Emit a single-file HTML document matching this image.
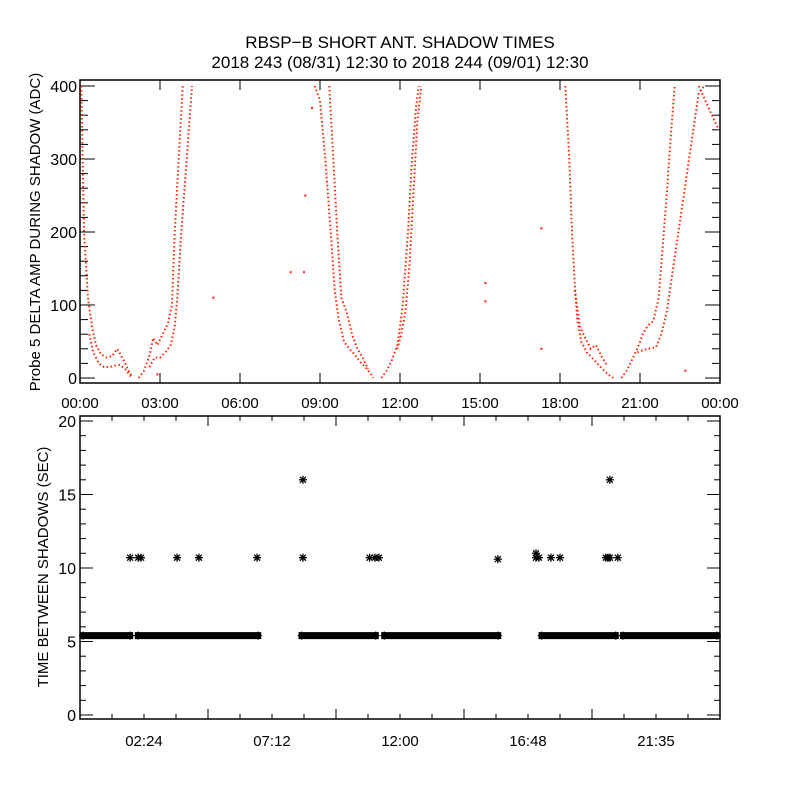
<!DOCTYPE html>
<html><head><meta charset="utf-8"><style>
html,body{margin:0;padding:0;background:#fff;}
svg{display:block;font-family:"Liberation Sans",sans-serif;}
</style></head><body>
<svg id="chart" width="800" height="800" viewBox="0 0 800 800">
<rect width="800" height="800" fill="#fff"/>
<text x="400" y="48" font-size="17" text-anchor="middle">RBSP−B SHORT ANT. SHADOW TIMES</text>
<text x="400" y="68" font-size="17" text-anchor="middle">2018 243 (08/31) 12:30 to 2018 244 (09/01) 12:30</text>
<g id="topPanel"></g>
<g id="botPanel"></g>
</svg>
<script>
// ---- top panel data (hours, ADC) ----
const b1aH=[0.05,0.15,0.3,0.45,0.6,0.8,1.0,1.2,1.4,1.55,1.7,1.85,1.95];
const b1aV=[400,200,110,70,45,32,28,30,40,30,20,8,2];
const b1bH=[0.35,0.5,0.7,0.9,1.1,1.3,1.5,1.7,1.9];
const b1bV=[60,35,20,15,15,17,18,12,2];
const b2aH=[2.2,2.4,2.6,2.75,2.9,3.1,3.3,3.45,3.55,3.7,3.85];
const b2aV=[0,10,30,55,45,60,75,100,200,300,400];
const b2bH=[2.6,2.8,3.0,3.2,3.4,3.55,3.65,3.8,4.0,4.2];
const b2bV=[15,28,28,35,45,70,110,200,300,400];
const b3aH=[8.8,9.0,9.2,9.4,9.55,9.7,9.9,10.1,10.3,10.5,10.7,10.9,11.0];
const b3aV=[400,380,300,200,120,80,50,40,32,22,15,6,0];
const b3bH=[9.35,9.5,9.65,9.8,10.0,10.2,10.4,10.6,10.8];
const b3bV=[400,300,200,110,90,60,40,28,12];
const b4aH=[11.3,11.5,11.7,11.9,12.0,12.1,12.2,12.3,12.45,12.6,12.7];
const b4aV=[0,10,25,45,70,100,150,200,300,370,400];
const b4bH=[11.9,12.05,12.2,12.35,12.5,12.65,12.8];
const b4bV=[40,60,90,150,250,350,400];
const b5aH=[18.2,18.35,18.45,18.55,18.65,18.8,19.0,19.2,19.4,19.6,19.8,20.0];
const b5aV=[400,300,200,130,80,50,35,28,20,12,5,0];
const b5bH=[18.55,18.75,18.95,19.15,19.35,19.55,19.75];
const b5bV=[120,70,55,40,45,30,18];
const b6aH=[20.3,20.5,20.7,20.9,21.1,21.3,21.5,21.7,21.85,22.0,22.15,22.3];
const b6aV=[0,10,25,40,60,72,78,110,180,250,330,400];
const b6bH=[20.9,21.1,21.3,21.6,21.8,22.0,22.2,22.4,22.6,22.8,23.0,23.2,23.4];
const b6bV=[35,38,40,42,60,90,140,190,240,290,340,390,400];
const b7H=[23.2,23.45,23.7,23.95];
const b7V=[400,380,360,340];
const isoH=[5.0,7.9,8.4,8.45,8.7,15.2,15.2,17.3,17.3,22.7,2.9];
const isoV=[110,145,145,250,370,105,130,205,40,10,5];
const topXTicks=["00:00","03:00","06:00","09:00","12:00","15:00","18:00","21:00","00:00"];
const topYTicks=[0,100,200,300,400];
// ---- bottom panel data ----
const segStart=[0,2.06,8.2,11.3,17.2,20.25];
const segEnd=[1.99,6.79,11.2,15.79,20.2,24];
const segVal=[5.4,5.4,5.4,5.4,5.4,5.4];
const outH=[1.88,2.18,2.29,3.64,4.46,6.64,8.36,10.86,11.06,11.21,15.67,17.1,17.21,17.66,18.0,19.72,19.8,19.87,20.17,8.36,19.87,17.1];
const outV=[10.7,10.7,10.7,10.7,10.7,10.7,10.7,10.7,10.7,10.7,10.6,10.7,10.7,10.7,10.7,10.7,10.7,10.7,10.7,16,16,11];
const botXTicks=["02:24","07:12","12:00","16:48","21:35"];
const botYTicks=[0,5,10,15,20];

const NS="http://www.w3.org/2000/svg";
function mk(tag,attrs,parent){const e=document.createElementNS(NS,tag);for(const k in attrs)e.setAttribute(k,attrs[k]);parent.appendChild(e);return e;}
const X0=80,X1=720;
function xs(h){return X0+h*(X1-X0)/24;}
const T0=80,T1=383;
function ty(v){return 378-v*0.73;}
const B0=416,B1=719;
function by(v){return 715-v*14.7;}

const topG=document.getElementById('topPanel');
const botG=document.getElementById('botPanel');

let r=mk('rect',{x:X0,y:T0,width:X1-X0,height:T1-T0,fill:'none',stroke:'#000','stroke-width':1.5},topG);


for(let v=0;v<=400;v+=20){
  const L=(v%100===0)?15:8;
  mk('line',{x1:X0,x2:X0+L,y1:ty(v),y2:ty(v),stroke:'#000'},topG);
  mk('line',{x1:X1,x2:X1-L,y1:ty(v),y2:ty(v),stroke:'#000'},topG);
}
topYTicks.forEach(v=>{
  const t=mk('text',{x:X0-3,y:ty(v)+6,'font-size':16,'text-anchor':'end'},topG);
  t.textContent=v;
  
  
});
topXTicks.forEach((s,i)=>{
  const x=xs(i*3);
  mk('line',{x1:x,x2:x,y1:T1,y2:T1-10,stroke:'#000'},topG);
  mk('line',{x1:x,x2:x,y1:T0,y2:T0+10,stroke:'#000'},topG);
  const t=mk('text',{x:x,y:408,'font-size':15,'text-anchor':'middle'},topG);
  t.textContent=s;
  
  
});
let yt=mk('text',{x:0,y:0,'font-size':15,'text-anchor':'middle',transform:'translate(40,232) rotate(-90)'},topG);
yt.textContent='Probe 5 DELTA AMP DURING SHADOW (ADC)';



const branches=[[b1aH,b1aV],[b1bH,b1bV],[b2aH,b2aV],[b2bH,b2bV],[b3aH,b3aV],[b3bH,b3bV],[b4aH,b4aV],[b4bH,b4bV],[b5aH,b5aV],[b5bH,b5bV],[b6aH,b6aV],[b6bH,b6bV],[b7H,b7V]];
branches.forEach(([H,V],i)=>{
  const pts=H.map((h,j)=>xs(h).toFixed(1)+','+ty(V[j]).toFixed(1)).join(' ');
  const p=mk('polyline',{points:pts,fill:'none',stroke:'#ff2200','stroke-width':2,'stroke-dasharray':'1.5 2.5'},topG);
  
  
});
isoH.forEach((h,j)=>{
  const c=mk('rect',{x:xs(h)-1,y:ty(isoV[j])-1,width:2,height:2,fill:'#ff2200'},topG);
  
  
});

r=mk('rect',{x:X0,y:B0,width:X1-X0,height:B1-B0,fill:'none',stroke:'#000','stroke-width':1.5},botG);


for(let v=0;v<=20;v+=1){
  const L=(v%5===0)?13:6;
  mk('line',{x1:X0,x2:X0+L,y1:by(v),y2:by(v),stroke:'#000'},botG);
  mk('line',{x1:X1,x2:X1-L,y1:by(v),y2:by(v),stroke:'#000'},botG);
}
botYTicks.forEach(v=>{
  const t=mk('text',{x:X0-4,y:by(v)+6,'font-size':16,'text-anchor':'end'},botG);
  t.textContent=v;
  
  
});
for(let k=1;k<20;k++){
  const x=xs(k*1.2),L=(k%4===0)?10:5;
  mk('line',{x1:x,x2:x,y1:B1,y2:B1-L,stroke:'#000'},botG);
  mk('line',{x1:x,x2:x,y1:B0,y2:B0+L,stroke:'#000'},botG);
}
botXTicks.forEach((s,i)=>{
  const t=mk('text',{x:xs((i+0.5)*4.8),y:746,'font-size':15,'text-anchor':'middle'},botG);
  t.textContent=s;
  
  
});
yt=mk('text',{x:0,y:0,'font-size':15,'text-anchor':'middle',transform:'translate(48,567) rotate(-90)'},botG);
yt.textContent='TIME BETWEEN SHADOWS (SEC)';



function star(x,y,name){
  const g=mk('g',{stroke:'#000','stroke-width':1.3},botG);
  
  
  mk('line',{x1:x-4,x2:x+4,y1:y,y2:y},g);
  mk('line',{x1:x,x2:x,y1:y-4,y2:y+4},g);
  mk('line',{x1:x-3,x2:x+3,y1:y-3,y2:y+3},g);
  mk('line',{x1:x-3,x2:x+3,y1:y+3,y2:y-3},g);
}
segStart.forEach((s,i)=>{
  const x0=xs(s),x1=xs(segEnd[i]),y=by(segVal[i]);
  const b=mk('rect',{x:x0,y:y-3.5,width:x1-x0,height:7,fill:'#000'},botG);
  
  
  star(x0+3,y,'interval-point');
  star(x1-3,y,'interval-point');
});
outH.forEach((h,j)=>star(xs(h),by(outV[j]),'interval-outlier'));
</script>
</body></html>
